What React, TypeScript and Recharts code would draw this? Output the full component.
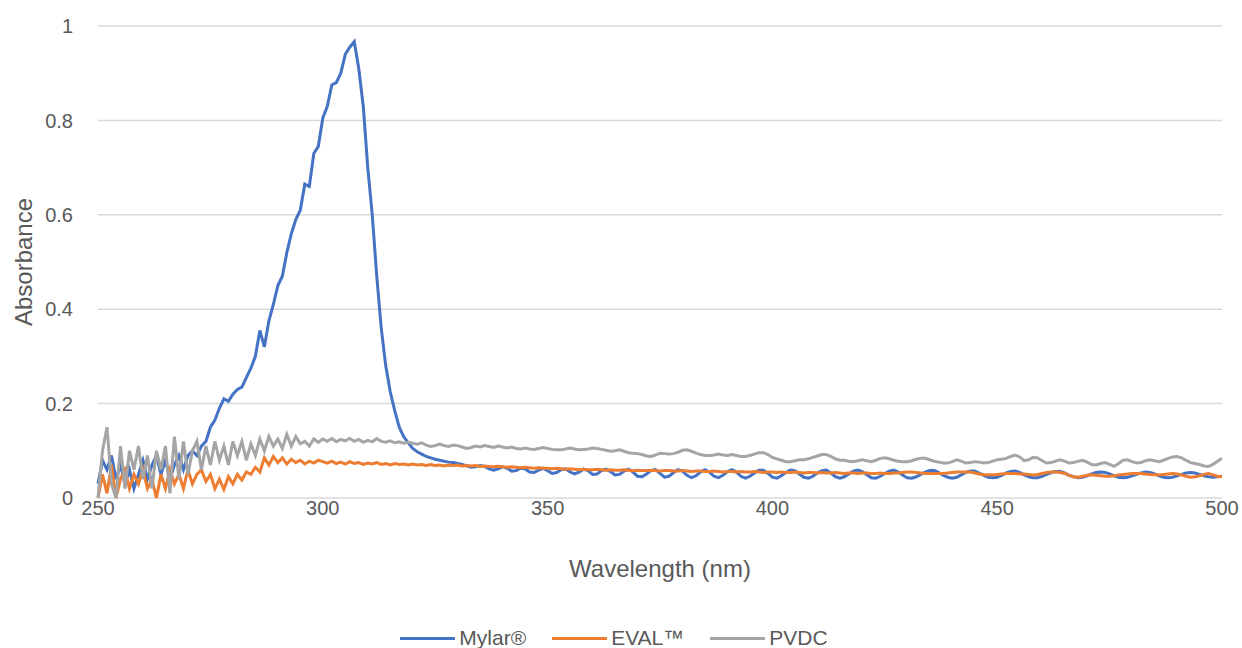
import { LineChart, Line, XAxis, YAxis, CartesianGrid, Legend, Label } from 'recharts';

const wavelengths = Array.from({ length: 251 }, (_, i) => 250 + i);

const mylar = [
  0.03, 0.08, 0.06, 0.09, 0.04, 0.07, 0.03, 0.06, 0.02, 0.05,
  0.08, 0.04, 0.07, 0.09, 0.05, 0.08, 0.04, 0.07, 0.09, 0.06,
  0.09, 0.1, 0.09, 0.11, 0.12, 0.15, 0.165, 0.19, 0.21, 0.205,
  0.22, 0.23, 0.235, 0.255, 0.275, 0.3, 0.355, 0.32, 0.375, 0.41,
  0.45, 0.47, 0.52, 0.56, 0.59, 0.61, 0.665, 0.66, 0.73, 0.745,
  0.805, 0.83, 0.875, 0.88, 0.9, 0.94, 0.955, 0.967, 0.91, 0.83,
  0.7, 0.6, 0.47, 0.36, 0.28, 0.225, 0.185, 0.15, 0.13, 0.117,
  0.105, 0.098, 0.093, 0.088, 0.085, 0.082, 0.08, 0.078, 0.076, 0.075,
  0.073, 0.071, 0.068, 0.065, 0.066, 0.069, 0.067, 0.062, 0.059, 0.062,
  0.066, 0.063, 0.057, 0.058, 0.063, 0.062, 0.055, 0.054, 0.059, 0.063,
  0.058, 0.052, 0.054, 0.06, 0.062, 0.055, 0.051, 0.055, 0.061, 0.058,
  0.05, 0.051, 0.058, 0.061, 0.056, 0.049, 0.05, 0.057, 0.061, 0.055,
  0.046, 0.045, 0.051, 0.058, 0.06, 0.052, 0.044, 0.046, 0.054, 0.06,
  0.057, 0.048, 0.043, 0.047, 0.055, 0.06, 0.055, 0.046, 0.043, 0.048,
  0.056, 0.06, 0.055, 0.046, 0.042, 0.046, 0.053, 0.059, 0.059, 0.052,
  0.044, 0.042, 0.047, 0.054, 0.059, 0.058, 0.051, 0.044, 0.042, 0.046,
  0.053, 0.058, 0.059, 0.053, 0.045, 0.042, 0.045, 0.051, 0.057, 0.059,
  0.056, 0.049, 0.043, 0.042, 0.046, 0.052, 0.057, 0.059, 0.055, 0.048,
  0.043, 0.042, 0.045, 0.05, 0.055, 0.058, 0.058, 0.054, 0.048, 0.044,
  0.042, 0.044, 0.049, 0.054, 0.057, 0.057, 0.053, 0.048, 0.044, 0.043,
  0.044, 0.048, 0.053, 0.056, 0.057, 0.054, 0.049, 0.045, 0.043, 0.043,
  0.046, 0.05, 0.054, 0.056, 0.056, 0.053, 0.048, 0.045, 0.043, 0.044,
  0.047, 0.051, 0.054, 0.055, 0.054, 0.051, 0.047, 0.044, 0.043, 0.044,
  0.047, 0.05, 0.053, 0.055, 0.054, 0.051, 0.047, 0.044, 0.043, 0.044,
  0.047, 0.05, 0.053, 0.054, 0.053, 0.05, 0.047, 0.045, 0.044, 0.045,
  0.046,
];

const evalFilm = [
  0.0, 0.05, 0.01, 0.07, 0.0, 0.04, 0.06, 0.02, 0.05, 0.03,
  0.06, 0.02, 0.04, 0.0, 0.05, 0.02, 0.06, 0.03, 0.05, 0.02,
  0.06, 0.03, 0.05, 0.06, 0.035, 0.05, 0.02, 0.04, 0.018, 0.045,
  0.03, 0.05, 0.038, 0.055, 0.05, 0.065, 0.055, 0.085, 0.07, 0.088,
  0.075, 0.085, 0.072, 0.082, 0.075, 0.08, 0.072, 0.078, 0.074, 0.08,
  0.077, 0.074, 0.078, 0.073, 0.076, 0.072, 0.077, 0.073, 0.075, 0.071,
  0.074, 0.072, 0.075, 0.071, 0.073, 0.07, 0.073, 0.071, 0.072, 0.07,
  0.072, 0.07, 0.071, 0.069, 0.071, 0.069, 0.07, 0.068, 0.07, 0.069,
  0.07, 0.068, 0.069, 0.068, 0.069, 0.067, 0.068, 0.067, 0.066, 0.067,
  0.066, 0.065, 0.066, 0.065, 0.064, 0.065, 0.064, 0.063, 0.064, 0.063,
  0.063, 0.062, 0.063, 0.062, 0.061, 0.062, 0.061, 0.06, 0.061, 0.06,
  0.06, 0.061, 0.06, 0.059, 0.06, 0.059, 0.059, 0.06, 0.059, 0.058,
  0.059, 0.058, 0.058, 0.059, 0.058, 0.057, 0.058, 0.058, 0.057, 0.057,
  0.058, 0.057, 0.056, 0.057, 0.057, 0.056, 0.056, 0.057, 0.056, 0.055,
  0.056, 0.056, 0.055, 0.056, 0.055, 0.055, 0.056, 0.055, 0.054, 0.055,
  0.055, 0.054, 0.055, 0.054, 0.054, 0.055, 0.054, 0.053, 0.054, 0.054,
  0.053, 0.054, 0.053, 0.053, 0.054, 0.053, 0.052, 0.053, 0.053, 0.052,
  0.053, 0.053, 0.052, 0.052, 0.053, 0.052, 0.052, 0.053, 0.053, 0.054,
  0.055, 0.055, 0.054, 0.053, 0.052, 0.052, 0.052, 0.052, 0.052, 0.053,
  0.054, 0.055, 0.055, 0.055, 0.055, 0.053, 0.051, 0.049, 0.049, 0.049,
  0.05, 0.051, 0.052, 0.052, 0.052, 0.051, 0.051, 0.05, 0.049, 0.05,
  0.052, 0.054, 0.055, 0.055, 0.054, 0.052, 0.048, 0.045, 0.044, 0.046,
  0.048, 0.049, 0.048, 0.047, 0.046, 0.046, 0.047, 0.049, 0.05, 0.051,
  0.052, 0.052, 0.052, 0.051, 0.05, 0.049, 0.049, 0.05, 0.051, 0.052,
  0.051, 0.049, 0.046, 0.044, 0.045, 0.047, 0.05, 0.052, 0.049, 0.046,
  0.045,
];

const pvdc = [
  0.0, 0.1, 0.15, 0.03, 0.0, 0.11, 0.02, 0.1, 0.06, 0.11,
  0.04, 0.09, 0.02, 0.1, 0.06, 0.11, 0.01, 0.13, 0.04, 0.12,
  0.05, 0.1, 0.12, 0.06, 0.11, 0.07, 0.12, 0.08, 0.11, 0.07,
  0.12, 0.09, 0.12, 0.08, 0.115, 0.09, 0.125, 0.1, 0.13, 0.11,
  0.125, 0.105, 0.135, 0.11, 0.13, 0.115, 0.12, 0.11, 0.125, 0.118,
  0.125, 0.12, 0.126, 0.119, 0.124, 0.121, 0.126, 0.12, 0.124, 0.118,
  0.122, 0.119, 0.126, 0.12, 0.118, 0.121, 0.117, 0.119, 0.116, 0.118,
  0.116, 0.114, 0.117, 0.112, 0.109, 0.111, 0.114, 0.111, 0.109, 0.112,
  0.111, 0.108, 0.105, 0.107, 0.11, 0.108, 0.111, 0.109, 0.107, 0.11,
  0.108, 0.106, 0.108, 0.105, 0.104, 0.106, 0.104, 0.103, 0.105, 0.107,
  0.105, 0.103, 0.102, 0.102, 0.104, 0.106, 0.104, 0.102, 0.103, 0.104,
  0.106, 0.105, 0.103, 0.101, 0.099, 0.1, 0.102, 0.099, 0.096, 0.095,
  0.094, 0.092, 0.089, 0.088, 0.091, 0.095, 0.094, 0.093, 0.094, 0.097,
  0.101, 0.102, 0.099, 0.095, 0.092, 0.09, 0.09, 0.091, 0.093, 0.091,
  0.09, 0.092, 0.09, 0.088, 0.088, 0.09, 0.093, 0.096, 0.096, 0.092,
  0.086, 0.083, 0.08, 0.077, 0.077, 0.079, 0.081, 0.081, 0.083, 0.086,
  0.089, 0.092, 0.092, 0.088, 0.083, 0.08, 0.08, 0.078, 0.077, 0.079,
  0.081, 0.079, 0.077, 0.08, 0.084, 0.085, 0.083, 0.08, 0.078, 0.077,
  0.077, 0.079, 0.082, 0.084, 0.084, 0.081, 0.078, 0.076, 0.074, 0.074,
  0.077, 0.081, 0.078, 0.074, 0.075, 0.077, 0.076, 0.074, 0.075, 0.078,
  0.081, 0.082, 0.084, 0.088, 0.091, 0.087, 0.079, 0.081, 0.086, 0.085,
  0.079, 0.074, 0.075, 0.078, 0.081, 0.078, 0.074, 0.075, 0.078, 0.08,
  0.076, 0.071, 0.07, 0.073, 0.075, 0.071, 0.067, 0.073, 0.08, 0.081,
  0.077, 0.074, 0.075, 0.079, 0.081, 0.079, 0.077, 0.08, 0.084, 0.087,
  0.088, 0.085, 0.08, 0.075, 0.073, 0.071, 0.068, 0.067, 0.071, 0.078,
  0.084,
];

const xTicks = [250, 300, 350, 400, 450, 500];
const yTicks = [0, 0.2, 0.4, 0.6, 0.8, 1];

const series = [
  { key: 'mylar', name: 'Mylar®', color: '#4472C4' },
  { key: 'eval', name: 'EVAL™', color: '#ED7D31' },
  { key: 'pvdc', name: 'PVDC', color: '#A5A5A5' },
];

const data = wavelengths.map((w, i) => ({
  w,
  mylar: mylar[i],
  eval: evalFilm[i],
  pvdc: pvdc[i],
}));

const FONT = '"Liberation Sans", Arial, sans-serif';
const TEXT = '#595959';

function LegendBox() {
  return (
    <div style={{ display: 'flex', justifyContent: 'center', alignItems: 'center', height: 20, fontFamily: FONT, fontSize: 21, color: TEXT, lineHeight: '20px', paddingLeft: 6 }}>
      {series.map((s) => (
        <div key={s.key} style={{ display: 'flex', alignItems: 'center', margin: '0 13px' }}>
          <div style={{ width: 55, height: 3, background: s.color, marginRight: 4 }} />
          <span>{s.name}</span>
        </div>
      ))}
    </div>
  );
}

export default function App() {
  return (
    <div style={{ position: 'absolute', left: 0, top: 0, background: '#fff' }}>
      <LineChart width={1242} height={648} data={data} margin={{ top: 26, right: 20, left: 0, bottom: 0 }}>
        <CartesianGrid vertical={false} stroke="#d9d9d9" strokeWidth={1.5} />
        <XAxis
          dataKey="w"
          type="number"
          domain={[250, 500]}
          ticks={xTicks}
          height={130}
          tickLine={false}
          axisLine={false}
          tickSize={0}
          tickMargin={3}
          tick={{ fill: TEXT, fontSize: 20, fontFamily: FONT }}
        >
          <Label
            content={() => (
              <text x={660} y={577} textAnchor="middle" fill={TEXT} fontSize={24} fontFamily={FONT}>
                Wavelength (nm)
              </text>
            )}
          />
        </XAxis>
        <YAxis
          type="number"
          domain={[0, 1]}
          ticks={yTicks}
          width={98}
          tickLine={false}
          axisLine={false}
          tickSize={0}
          tickMargin={25}
          tick={{ fill: TEXT, fontSize: 20, fontFamily: FONT }}
        >
          <Label
            content={() => (
              <text x={32} y={262} transform="rotate(-90, 32, 262)" textAnchor="middle" fill={TEXT} fontSize={24} fontFamily={FONT}>
                Absorbance
              </text>
            )}
          />
        </YAxis>
        <Legend verticalAlign="bottom" height={20} content={() => <LegendBox />} />
        {series.map((s) => (
          <Line
            key={s.key}
            type="linear"
            dataKey={s.key}
            name={s.name}
            stroke={s.color}
            strokeWidth={3}
            dot={false}
            activeDot={false}
            isAnimationActive={false}
          />
        ))}
      </LineChart>
    </div>
  );
}
